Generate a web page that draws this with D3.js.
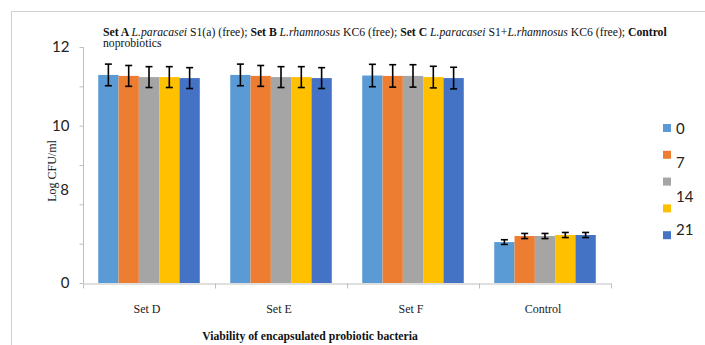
<!DOCTYPE html>
<html>
<head>
<meta charset="utf-8">
<script src="https://cdn.jsdelivr.net/npm/d3@7"></script>
<style>
  body { margin: 0; background: #fff; }
  svg { display: block; }
</style>
</head>
<body>
<div id="chart"></div>
<script>
width = 705
height = 345

// data
var categories = ["Set D", "Set E", "Set F", "Control"]
var series = ["0", "7", "14", "21", "28"]
var colors = ["#5b9bd5", "#ed7d31", "#a5a5a5", "#ffc000", "#4472c4"]
var setD = [10.58, 10.53, 10.47, 10.47, 10.42]
var setE = [10.58, 10.53, 10.47, 10.47, 10.42]
var setF = [10.55, 10.53, 10.53, 10.47, 10.42]
var control = [2.08, 2.39, 2.39, 2.44, 2.44]
var errD = [0.55, 0.53, 0.53, 0.53, 0.53]
var errE = [0.55, 0.53, 0.53, 0.53, 0.53]
var errF = [0.57, 0.57, 0.57, 0.55, 0.55]
var errC = [0.12, 0.13, 0.13, 0.13, 0.13]
var yTicks = [0, 2, 4, 6, 8, 10, 12]
var yTickLabels = {0: "0", 8: "10", 12: "12"}
var strayLabel = {value: 4.75, text: "8"}
var legendLabels = ["0", "7", "14", "21"]

var values = [setD, setE, setF, control]
var errors = [errD, errE, errF, errC]

var serif = "'Liberation Serif', 'Times New Roman', serif"
var sans = "Lato, 'Open Sans', sans-serif"

let svg = d3.select("#chart")
  .append("svg")
  .attr("width", width)
  .attr("height", height)

// chart frame
svg.append("rect")
  .attr("x", 11.5).attr("y", 11.5)
  .attr("width", 720).attr("height", 360)
  .attr("fill", "none").attr("stroke", "#d0d0d0")

var x0 = d3.scaleBand().domain(categories).range([83, 611])
// bars take 5 of 6.5 slots (gap width 150%)
var x1 = d3.scaleBand().domain(series)
  .range([x0.bandwidth() * 0.75 / 6.5, x0.bandwidth() * 5.75 / 6.5])
var y = d3.scaleLinear().domain([0, 12]).range([283, 47])

// y axis
var yAxis = d3.axisLeft(y).tickValues(yTicks).tickSize(4).tickFormat(d => yTickLabels[d] || "")
var ya = svg.append("g").attr("transform", "translate(83.5,0)").call(yAxis)
ya.select(".domain").attr("stroke", "#bfbfbf").attr("d", "M0," + y(12) + "V" + y(0))
ya.selectAll(".tick line").attr("stroke", "#bfbfbf")
ya.selectAll(".tick text")
  .attr("x", -14)
  .style("font-family", sans)
  .style("font-size", "15px").attr("fill", "#222")

svg.append("text")
  .attr("x", 69).attr("y", y(strayLabel.value)).attr("dy", "0.35em")
  .attr("text-anchor", "end")
  .style("font-family", sans)
  .style("font-size", "15px").attr("fill", "#222")
  .text(strayLabel.text)

// x axis
var xa = svg.append("g").attr("transform", "translate(0,283.5)")
  .call(d3.axisBottom(x0).tickSize(0).tickFormat(""))
xa.select(".domain").attr("stroke", "#bfbfbf")
xa.selectAll(".tick").remove()
var bounds = categories.map(c => x0(c)).concat([x0.range()[1]])
xa.selectAll("line.sep").data(bounds).enter().append("line")
  .attr("x1", d => d + 0.5).attr("x2", d => d + 0.5)
  .attr("y1", 0).attr("y2", 5)
  .attr("stroke", "#bfbfbf")

svg.selectAll("text.cat").data(categories).enter().append("text")
  .attr("x", d => x0(d) + x0.bandwidth() / 2 - 2)
  .attr("y", 313)
  .attr("text-anchor", "middle")
  .style("font-family", serif)
  .style("font-size", "12px").attr("fill", "#222")
  .text(d => d)

// bars
var groups = svg.selectAll("g.grp").data(categories).enter().append("g")
  .attr("transform", d => `translate(${x0(d)},0)`)

groups.each(function(cat, ci) {
  var g = d3.select(this)
  g.selectAll("rect").data(values[ci]).enter().append("rect")
    .attr("x", (d, i) => x1(series[i]))
    .attr("width", x1.bandwidth())
    .attr("y", d => y(d))
    .attr("height", d => y(0) - y(d))
    .attr("fill", (d, i) => colors[i])

  var cx = (d, i) => x1(series[i]) + x1.bandwidth() / 2
  var eb = g.selectAll("g.err").data(values[ci]).enter().append("g")
    .attr("stroke", "#000").attr("stroke-width", 1.6)
  eb.append("line")
    .attr("x1", cx).attr("x2", cx)
    .attr("y1", (d, i) => y(d + errors[ci][i]))
    .attr("y2", (d, i) => y(d - errors[ci][i]))
  eb.append("line")
    .attr("x1", (d, i) => cx(d, i) - 3.5)
    .attr("x2", (d, i) => cx(d, i) + 3.5)
    .attr("y1", (d, i) => y(d + errors[ci][i]))
    .attr("y2", (d, i) => y(d + errors[ci][i]))
  eb.append("line")
    .attr("x1", (d, i) => cx(d, i) - 3.5)
    .attr("x2", (d, i) => cx(d, i) + 3.5)
    .attr("y1", (d, i) => y(d - errors[ci][i]))
    .attr("y2", (d, i) => y(d - errors[ci][i]))
})

// legend: squares and labels are not aligned in the original
var legend = svg.append("g")
legend.selectAll("rect").data(series).enter().append("rect")
  .attr("x", 663).attr("y", (d, i) => 124 + i * 26.8)
  .attr("width", 8).attr("height", 8)
  .attr("fill", (d, i) => colors[i])
legend.selectAll("text").data(legendLabels).enter().append("text")
  .attr("x", 676).attr("y", (d, i) => 129 + i * 33.7).attr("dy", "0.35em")
  .style("font-family", sans)
  .style("font-size", "15px").attr("fill", "#222")
  .text(d => d)

// title
var title = svg.append("text")
  .attr("x", 103).attr("y", 36)
  .style("font-family", serif)
  .style("font-size", "11.7px").attr("fill", "#111")
var parts = [
  ["Set A ", "b"], ["L.paracasei", "i"], [" S1(a) (free); ", ""],
  ["Set B ", "b"], ["L.rhamnosus", "i"], [" KC6 (free); ", ""],
  ["Set C ", "b"], ["L.paracasei", "i"], [" S1+", ""], ["L.rhamnosus", "i"], [" KC6 (free); ", ""],
  ["Control", "b"]
]
parts.forEach(p => {
  title.append("tspan")
    .attr("font-weight", p[1] == "b" ? "bold" : null)
    .attr("font-style", p[1] == "i" ? "italic" : null)
    .text(p[0])
})
svg.append("text")
  .attr("x", 103).attr("y", 47)
  .style("font-family", serif)
  .style("font-size", "11.7px").attr("fill", "#111")
  .text("noprobiotics")

// axis titles
svg.append("text")
  .attr("x", 310).attr("y", 340)
  .attr("text-anchor", "middle")
  .style("font-family", serif)
  .style("font-size", "11.7px").style("font-weight", "bold").attr("fill", "#111")
  .text("Viability of encapsulated probiotic bacteria")

svg.append("text")
  .attr("transform", "translate(56,171) rotate(-90)")
  .attr("text-anchor", "middle")
  .style("font-family", serif)
  .style("font-size", "12px").attr("fill", "#222")
  .text("Log CFU/ml")
</script>
</body>
</html>
